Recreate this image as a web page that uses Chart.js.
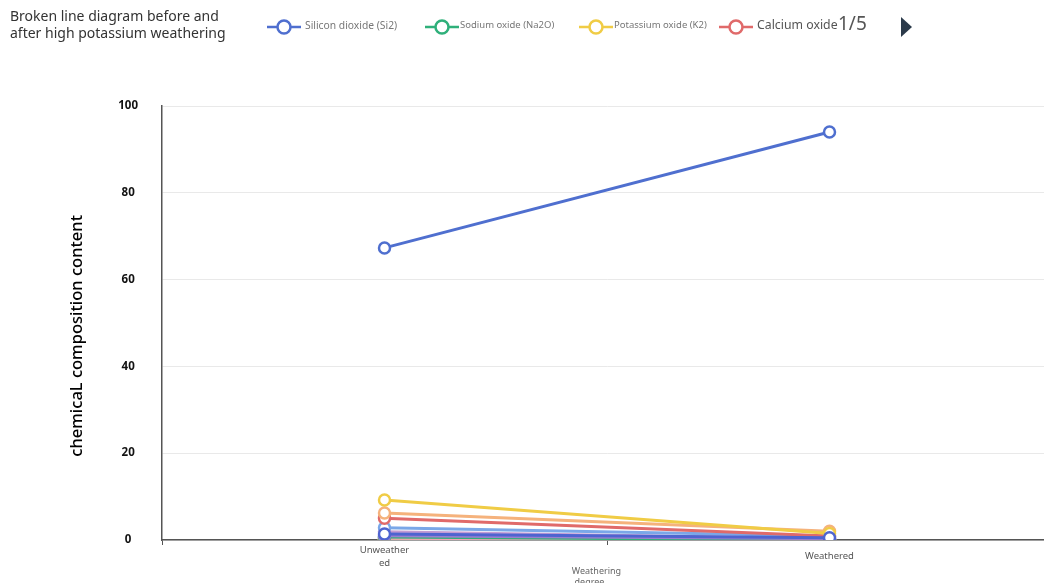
<!DOCTYPE html>
<html>
<head>
<meta charset="utf-8">
<script src="https://cdn.jsdelivr.net/npm/chart.js@4/dist/chart.umd.min.js"></script>
<style>
  html, body { margin: 0; padding: 0; background: #fff; overflow: hidden; width: 1044px; height: 583px; }
  #wrap { position: absolute; left: 0; top: 0; width: 1060px; height: 600px; }
  .head { position: absolute; font-family: "Noto Sans", "DejaVu Sans", sans-serif; white-space: nowrap; }
  #title { left: 10px; top: 7px; font-size: 14px; line-height: 17px; color: #333; }
  .leg { position: absolute; top: 14px; height: 22px; }
  .leg svg { position: absolute; left: 0; top: 4px; }
  .leg span { position: absolute; top: 1px; font-family: "Noto Sans", sans-serif; white-space: nowrap; }
  .small { font-size: 9.5px; color: #777; line-height: 20px; }
  .big { font-size: 12.3px; color: #555; line-height: 20px; }
  #pager { left: 838px; top: 11px; font-size: 19px; color: #555; line-height: 24px; }
  #arrow { position: absolute; left: 901px; top: 17px; width: 0; height: 0;
           border-top: 10.5px solid transparent; border-bottom: 10.5px solid transparent; border-left: 11px solid #2b3a4a; }
</style>
</head>
<body>
<div id="wrap"><canvas id="lineChart" width="1060" height="600"></canvas></div>
<div id="title" class="head">Broken line diagram before and<br>after high potassium weathering</div>
<div id="legend"></div>
<div id="pager" class="head">1/5</div>
<div id="arrow"></div>
<script>
// Hạng mục trục x và dữ liệu thành phần hóa học (%)
const categories = [['Unweather', 'ed'], 'Weathered'];
const oxideNames = [
  'Silicon dioxide (Si2)', 'Sodium oxide (Na2O)', 'Potassium oxide (K2)', 'Calcium oxide',
  'Magnesium oxide', 'Aluminium oxide', 'Iron oxide', 'Copper oxide',
  'Lead oxide', 'Barium oxide', 'Phosphorus pentoxide', 'Strontium oxide', 'Tin oxide', 'Sulfur dioxide'
];
const unweathered = [67.3, 0.70, 9.2, 5.0, 2.8, 6.2, 1.0, 1.4, 0.41, 0.60, 1.9, 0.04, 0.20, 0.10];
const weathered   = [94.0, 0.00, 1.5, 0.9, 0.9, 2.0, 0.3, 0.5, 0.00, 0.00, 0.28, 0.00, 0.00, 0.00];
const yTicks = [0, 20, 40, 60, 80, 100];

// Màu đường
const palette = ['#4f6fcf', '#2fb07a', '#f0cc45', '#e06a6a', '#7aa7e8', '#f5b27c', '#9b7fcf',
                 '#4e64d0', '#f2a3b8', '#8ed1c6', '#c39bd3', '#b7c96a', '#e8a04e', '#a0a6b8'];
// Thứ tự vẽ: số nhỏ nằm trên cùng
const drawOrder = [0, 5, 2, 4, 4, 3, 4, 1, 6, 6, 5, 7, 7, 7];

const datasets = oxideNames.map((name, i) => ({
  label: name,
  data: [unweathered[i], weathered[i]],
  order: drawOrder[i],
  borderColor: palette[i],
  backgroundColor: '#fff',
  borderWidth: 3,
  pointRadius: 5.5,
  pointBorderWidth: 2.5,
  pointBackgroundColor: '#fff',
  pointBorderColor: palette[i],
  tension: 0
}));

// Chú giải trang đầu (4 mục)
const legendPos = [
  { icon: 267, text: 305, cls: 'small', size: 10.3 },
  { icon: 425, text: 460, cls: 'small', size: 9.5 },
  { icon: 579, text: 614, cls: 'small', size: 9.5 },
  { icon: 719, text: 757, cls: 'big', size: 12.3 }
];
const legendBox = document.getElementById('legend');
legendPos.forEach((p, i) => {
  const c = palette[i];
  legendBox.insertAdjacentHTML('beforeend',
    `<div class="leg" style="left:${p.icon}px">
       <svg width="34" height="18"><line x1="0" y1="9" x2="34" y2="9" stroke="${c}" stroke-width="2.5"/>
       <circle cx="17" cy="9" r="6.5" fill="#fff" stroke="${c}" stroke-width="2.5"/></svg>
       <span class="${p.cls}" style="left:${p.text - p.icon}px;font-size:${p.size}px">${oxideNames[i]}</span>
     </div>`);
});

const ctx = document.getElementById('lineChart').getContext('2d');
new Chart(ctx, {
  type: 'line',
  data: { labels: categories, datasets: datasets },
  options: {
    responsive: false,
    animation: false,
    layout: { padding: { top: 106, right: 7, bottom: 0, left: 0 } },
    plugins: { legend: { display: false }, tooltip: { enabled: false } },
    scales: {
      x: {
        offset: true,
        afterFit: (s) => { s.height = 60; },
        grid: { drawOnChartArea: false, drawTicks: true, tickLength: 5, color: '#555', offset: true },
        border: { color: '#555', width: 1.5 },
        ticks: { padding: 5, crossAlign: 'center', color: '#555',
                 font: { family: 'Noto Sans', size: 9.5, lineHeight: 1.35 } },
        title: { display: true, text: ['Weathering\u00a0\u00a0\u00a0\u00a0\u00a0\u00a0\u00a0\u00a0\u00a0', 'degree\u00a0\u00a0\u00a0\u00a0\u00a0\u00a0\u00a0\u00a0\u00a0\u00a0\u00a0\u00a0\u00a0\u00a0\u00a0'],
                 color: '#666', padding: { top: 0, bottom: 12 },
                 font: { family: 'Noto Sans', size: 9 } }
      },
      y: {
        min: 0, max: 100,
        afterFit: (s) => { s.width = 162; },
        afterBuildTicks: (s) => { s.ticks = yTicks.map(v => ({ value: v })); },
        grid: { color: '#e9e9e9', lineWidth: 1, drawTicks: false },
        border: { color: '#555', width: 1.5 },
        ticks: { padding: 24, crossAlign: 'center', color: '#111',
                 font: { family: 'Noto Sans', size: 11.5, weight: 'bold' } },
        title: { display: true, text: 'chemicaL composition content\u00a0\u00a0\u00a0\u00a0\u00a0\u00a0',
                 color: '#000', padding: { top: 67 },
                 font: { family: 'Noto Sans', size: 16.5, weight: '500' } }
      }
    }
  }
});
</script>
</body>
</html>
